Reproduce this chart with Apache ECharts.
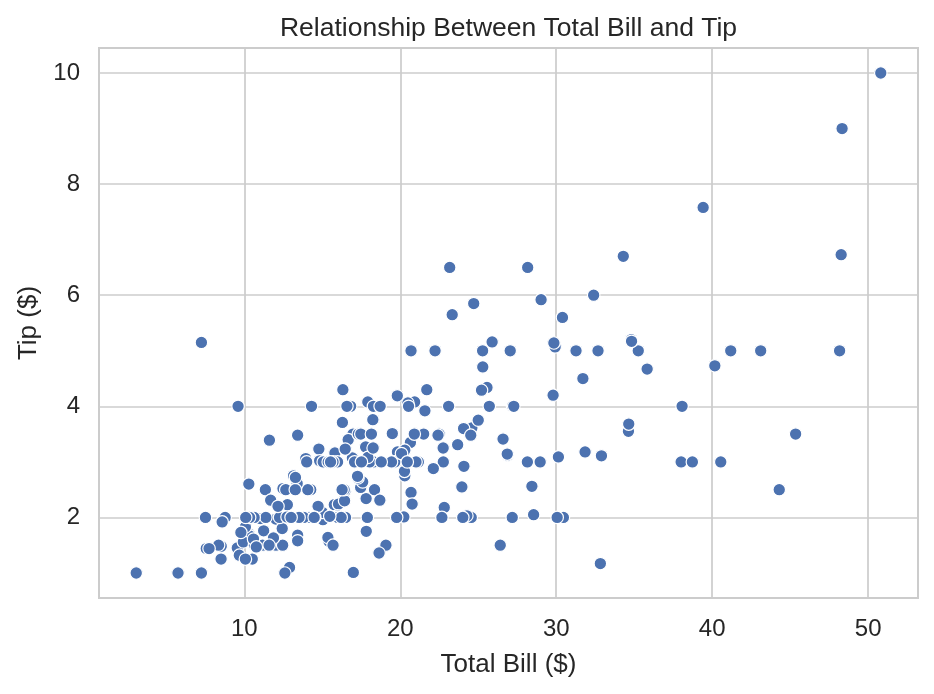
<!DOCTYPE html>
<html>
<head>
<meta charset="utf-8">
<script src="https://cdn.jsdelivr.net/npm/echarts@6/dist/echarts.min.js"></script>
<style>html,body{margin:0;padding:0;background:#fff}#c{width:934px;height:694px}</style>
</head>
<body>
<div id="c"></div>
<script>
const chartTitle = 'Relationship Between Total Bill and Tip';
const xName = 'Total Bill ($)';
const yName = 'Tip ($)';
const xTicks = [10, 20, 30, 40, 50];
const yTicks = [2, 4, 6, 8, 10];
const totalBill = [16.99,10.34,21.01,23.68,24.59,25.29,8.77,26.88,15.04,14.78,10.27,35.26,15.42,18.43,14.83,21.58,10.33,16.29,16.97,20.65,17.92,20.29,15.77,39.42,19.82,17.81,13.37,12.69,21.70,19.65,9.55,18.35,15.06,20.69,17.78,24.06,16.31,16.93,18.69,31.27,16.04,17.46,13.94,9.68,30.40,18.29,22.23,32.40,28.55,18.04,12.54,10.29,34.81,9.94,25.56,19.49,38.01,26.41,11.24,48.27,20.29,13.81,11.02,18.29,17.59,20.08,16.45,3.07,20.23,15.01,12.02,17.07,26.86,25.28,14.73,10.51,17.92,27.20,22.76,17.29,19.44,16.66,10.07,32.68,15.98,34.83,13.03,18.28,24.71,21.16,28.97,22.49,5.75,16.32,22.75,40.17,27.28,12.03,21.01,12.46,11.35,15.38,44.30,22.42,20.92,15.36,20.49,25.21,18.24,14.31,14.00,7.25,38.07,23.95,25.71,17.31,29.93,10.65,12.43,24.08,11.69,13.42,14.26,15.95,12.48,29.80,8.52,14.52,11.38,22.82,19.08,20.27,11.17,12.26,18.26,8.51,10.33,14.15,16.00,13.16,17.47,34.30,41.19,27.05,16.43,8.35,18.64,11.87,9.78,7.51,14.07,13.13,17.26,24.55,19.77,29.85,48.17,25.00,13.39,16.49,21.50,12.66,16.21,13.81,17.51,24.52,20.76,31.71,10.59,10.63,50.81,15.81,7.25,31.85,16.82,32.90,17.89,14.48,9.60,34.63,34.65,23.33,45.35,23.17,40.55,20.69,20.90,30.46,18.15,23.10,15.69,19.81,28.44,15.48,16.58,7.56,10.34,43.11,13.00,13.51,18.71,12.74,13.00,16.40,20.53,16.47,26.59,38.73,24.27,12.76,30.06,25.89,48.33,13.27,28.17,12.90,28.15,11.59,7.74,30.14,12.16,13.42,8.58,15.98,13.42,16.27,10.09,20.45,13.28,22.12,24.01,15.69,11.61,10.77,15.53,10.07,12.60,32.83,35.83,29.03,27.18,22.67,17.82,18.78];
const tip = [1.01,1.66,3.50,3.31,3.61,4.71,2.00,3.12,1.96,3.23,1.71,5.00,1.57,3.00,3.02,3.92,1.67,3.71,3.50,3.35,4.08,2.75,2.23,7.58,3.18,2.34,2.00,2.00,4.30,3.00,1.45,2.50,3.00,2.45,3.27,3.60,2.00,3.07,2.31,5.00,2.24,2.54,3.06,1.32,5.60,3.00,5.00,6.00,2.05,3.00,2.50,2.60,5.20,1.56,4.34,3.51,3.00,1.50,1.76,6.73,3.21,2.00,1.98,3.76,2.64,3.15,2.47,1.00,2.01,2.09,1.97,3.00,3.14,5.00,2.20,1.25,3.08,4.00,3.00,2.71,3.00,3.40,1.83,5.00,2.03,5.17,2.00,4.00,5.85,3.00,3.00,3.50,1.00,4.30,3.25,4.73,4.00,1.50,3.00,1.50,2.50,3.00,2.50,3.48,4.08,1.64,4.06,4.29,3.76,4.00,3.00,1.00,4.00,2.55,4.00,3.50,5.07,1.50,1.80,2.92,2.31,1.68,2.50,2.00,2.52,4.20,1.48,2.00,2.00,2.18,1.50,2.83,1.50,2.00,3.25,1.25,2.00,2.00,2.00,2.75,3.50,6.70,5.00,5.00,2.30,1.50,1.36,1.63,1.73,2.00,2.50,2.00,2.74,2.00,2.00,5.14,5.00,3.75,2.61,2.00,3.50,2.50,2.00,2.00,3.00,3.48,2.24,4.50,1.61,2.00,10.00,3.16,5.15,3.18,4.00,3.11,2.00,2.00,4.00,3.55,3.68,5.65,3.50,6.50,3.00,5.00,3.50,2.00,3.50,4.00,1.50,4.19,2.56,2.02,4.00,1.44,2.00,5.00,2.00,2.00,4.00,2.01,2.00,2.50,4.00,3.23,3.41,3.00,2.03,2.23,2.00,5.16,9.00,2.50,6.50,1.10,3.00,1.50,1.44,3.09,2.20,3.48,1.92,3.00,1.58,2.50,2.00,3.00,2.72,2.88,2.00,3.00,3.39,1.47,3.00,1.25,1.00,1.17,4.67,5.92,2.00,2.00,1.75,3.00];

const points = totalBill.map((b, i) => [b, tip[i]]);
const xPad = (Math.max(...totalBill) - Math.min(...totalBill)) * 0.05;
const yPad = (Math.max(...tip) - Math.min(...tip)) * 0.05;

const font = '"Liberation Sans", Arial, sans-serif';
const textColor = '#262626';
const gridColor = '#cccccc';
const titleSize = 26.5;
const gridLeft = 99, gridRight = 16, chartW = 934;

// centre the title over the plot area (like matplotlib)
const mctx = document.createElement('canvas').getContext('2d');
mctx.font = titleSize + 'px ' + font;
const titleW = mctx.measureText(chartTitle).width;
const plotCenter = (gridLeft + (chartW - gridRight)) / 2;

const chart = echarts.init(document.getElementById('c'), null, {renderer: 'canvas'});
chart.setOption({
  animation: false,
  backgroundColor: '#ffffff',
  title: {
    text: chartTitle,
    left: plotCenter - titleW / 2,
    top: 15,
    padding: 0,
    textStyle: {fontFamily: font, fontSize: titleSize, fontWeight: 'normal', color: textColor}
  },
  grid: {
    left: gridLeft, right: gridRight, top: 48, bottom: 96,
    show: true, borderColor: gridColor, borderWidth: 2, backgroundColor: 'transparent'
  },
  xAxis: {
    type: 'value',
    min: Math.min(...totalBill) - xPad,
    max: Math.max(...totalBill) + xPad,
    name: xName,
    nameLocation: 'middle',
    nameGap: 54,
    nameTextStyle: {fontFamily: font, fontSize: 26, color: textColor},
    axisLine: {show: false},
    axisTick: {show: false, customValues: xTicks},
    axisLabel: {customValues: xTicks, fontFamily: font, fontSize: 24, color: textColor, margin: 19},
    splitLine: {show: true, lineStyle: {color: gridColor, width: 1.7}}
  },
  yAxis: {
    type: 'value',
    min: Math.min(...tip) - yPad,
    max: Math.max(...tip) + yPad,
    name: yName,
    nameLocation: 'middle',
    nameGap: 57,
    nameTextStyle: {fontFamily: font, fontSize: 26, color: textColor},
    axisLine: {show: false},
    axisTick: {show: false, customValues: yTicks},
    axisLabel: {customValues: yTicks, fontFamily: font, fontSize: 24, color: textColor, margin: 19},
    splitLine: {show: true, lineStyle: {color: gridColor, width: 1.7}}
  },
  series: [{
    type: 'scatter',
    data: points,
    symbolSize: 12.5,
    itemStyle: {color: '#4C72B0', borderColor: '#ffffff', borderWidth: 1.2, opacity: 1}
  }]
});
</script>
</body>
</html>
